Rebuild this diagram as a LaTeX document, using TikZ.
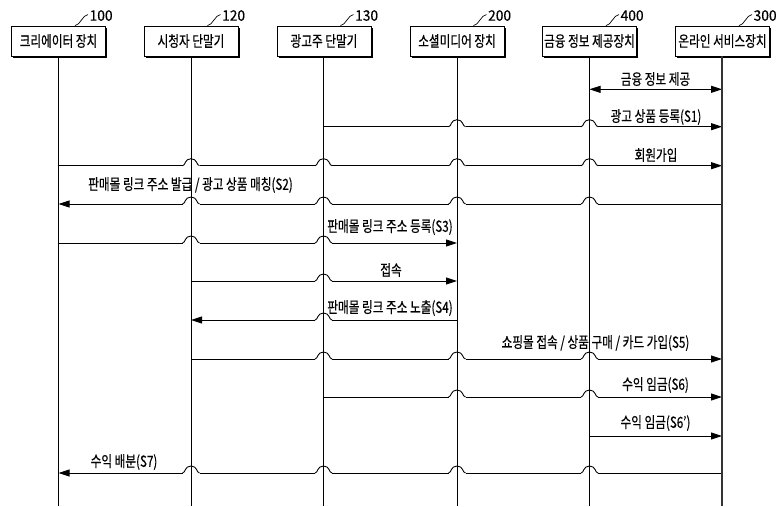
\documentclass[tikz,border=0pt]{standalone}
\usepackage{fontspec}
\setmainfont{Noto Sans CJK KR}[FakeStretch=0.76,FakeBold=0.4]
\newfontfamily\numfont{Noto Sans CJK KR}[FakeStretch=0.95,FakeBold=0.4]
\usetikzlibrary{arrows.meta,shadows}
\begin{document}
\begin{tikzpicture}[x=1pt,y=-1pt,
  box/.style={draw, line width=0.9pt, fill=white, minimum width=94pt, minimum height=30pt,
    inner sep=0pt, font=\fontsize{15.3}{17}\selectfont,
    general shadow={fill=black, shadow xshift=1.6pt, shadow yshift=-1.6pt}},
  refnum/.style={anchor=west, inner sep=0pt, font=\numfont\fontsize{14.5}{16}\selectfont},
  leader/.style={line width=0.7pt},
  life/.style={line width=0.9pt},
  msg/.style={line width=0.9pt, -{Triangle[length=11pt,width=7pt]}},
  dmsg/.style={line width=0.9pt, {Triangle[length=11pt,width=7pt]}-{Triangle[length=11pt,width=7pt]}},
  lbl/.style={inner sep=0pt, font=\fontsize{15.3}{17}\selectfont},
  hump/.pic={\fill[white] (-8.5,-1.3) rectangle (8.5,1.3);
    \draw[line width=0.9pt] (-8.5,0) .. controls (-5.5,0) and (-6.5,-7) .. (0,-7)
      .. controls (6.5,-7) and (5.5,0) .. (8.5,0);}
]
\useasboundingbox (0,0) rectangle (776,506);

% lifeline x positions
\coordinate (xa) at (58.5,0);
\coordinate (xb) at (191,0);
\coordinate (xc) at (323.5,0);
\coordinate (xd) at (457,0);
\coordinate (xe) at (589.5,0);
\coordinate (xf) at (722,0);
\coordinate (bot) at (0,506);

% message y positions
\coordinate (m0) at (0,89.3);
\coordinate (m1) at (0,126.7);
\coordinate (m2) at (0,165.7);
\coordinate (m3) at (0,204);
\coordinate (m4) at (0,243);
\coordinate (m5) at (0,281);
\coordinate (m6) at (0,320);
\coordinate (m7) at (0,359);
\coordinate (m8) at (0,397);
\coordinate (m9) at (0,436);
\coordinate (m10) at (0,473);

% boxes
\node[box] (ba) at (58.5,41) {크리에이터 장치};
\node[box] (bb) at (191,41) {시청자 단말기};
\node[box] (bc) at (324,41) {광고주 단말기};
\node[box] (bd) at (457,41) {소셜미디어 장치};
\node[box] (be) at (589.5,41) {금융 정보 제공장치};
\node[box] (bf) at (722.5,41) {온라인 서비스장치};

% reference numerals with leaders
\foreach \b/\n in {ba/100, bb/120, bc/130, bd/200, be/400, bf/300}{
  \coordinate (\b-ls) at ([xshift=-31pt]\b.north east);
  \coordinate (\b-le) at ([xshift=-18pt,yshift=11pt]\b.north east);
  \draw[leader] (\b-ls) .. controls ([xshift=5pt]\b-ls) and ([xshift=-5pt]\b-le) .. (\b-le);
  \node[refnum] (\b-num) at ([xshift=1.5pt,yshift=-1pt]\b-le) {\n};
}

% messages
\draw[dmsg] (xe|-m0) -- (xf|-m0);
\draw[msg] (xc|-m1) -- (xf|-m1);
\draw[msg] (xa|-m2) -- (xf|-m2);
\draw[msg] (xf|-m3) -- (xa|-m3);
\draw[msg] (xa|-m4) -- (xd|-m4);
\draw[msg] (xb|-m5) -- (xd|-m5);
\draw[msg] (xd|-m6) -- (xb|-m6);
\draw[msg] (xb|-m7) -- (xf|-m7);
\draw[msg] (xc|-m8) -- (xf|-m8);
\draw[msg] (xe|-m9) -- (xf|-m9);
\draw[msg] (xf|-m10) -- (xa|-m10);

% line hops over lifelines
\foreach \c/\m in {xd/m1, xe/m1,
  xb/m2, xc/m2, xd/m2, xe/m2,
  xb/m3, xc/m3, xd/m3, xe/m3,
  xb/m4, xc/m4,
  xc/m5, xc/m6,
  xc/m7, xd/m7, xe/m7,
  xd/m8, xe/m8,
  xb/m10, xc/m10, xd/m10, xe/m10}{
  \pic at (\c|-\m) {hump};
}

% lifelines
\draw[life] (ba.south) -- (xa|-bot);
\draw[life] (bb.south) -- (xb|-bot);
\draw[life] (bc.south -| xc) -- (xc|-bot);
\draw[life] (bd.south) -- (xd|-bot);
\draw[life] (be.south) -- (xe|-bot);
\draw[line width=1.3pt, black!80] (bf.south -| xf) -- (xf|-bot);

% labels
\node[lbl] (l0) at (655.5,79) {금융 정보 제공};
\node[lbl] (l1) at (656,117) {광고 상품 등록(S1)};
\node[lbl] (l2) at (656,155) {회원가입};
\node[lbl] (l3) at (190.5,185) {판매몰 링크 주소 발급 / 광고 상품 매칭(S2)};
\node[lbl] (l4) at (390,227) {판매몰 링크 주소 등록(S3)};
\node[lbl] (l5) at (391,270) {접속};
\node[lbl] (l6) at (390,308) {판매몰 링크 주소 노출(S4)};
\node[lbl] (l7) at (595.5,343) {쇼핑몰 접속 / 상품 구매 / 카드 가입(S5)};
\node[lbl] (l8) at (655.5,385) {수익 임금(S6)};
\node[lbl] (l9) at (655.5,423) {수익 임금(S6')};
\node[lbl] (l10) at (124,462) {수익 배분(S7)};
\end{tikzpicture}
\end{document}
